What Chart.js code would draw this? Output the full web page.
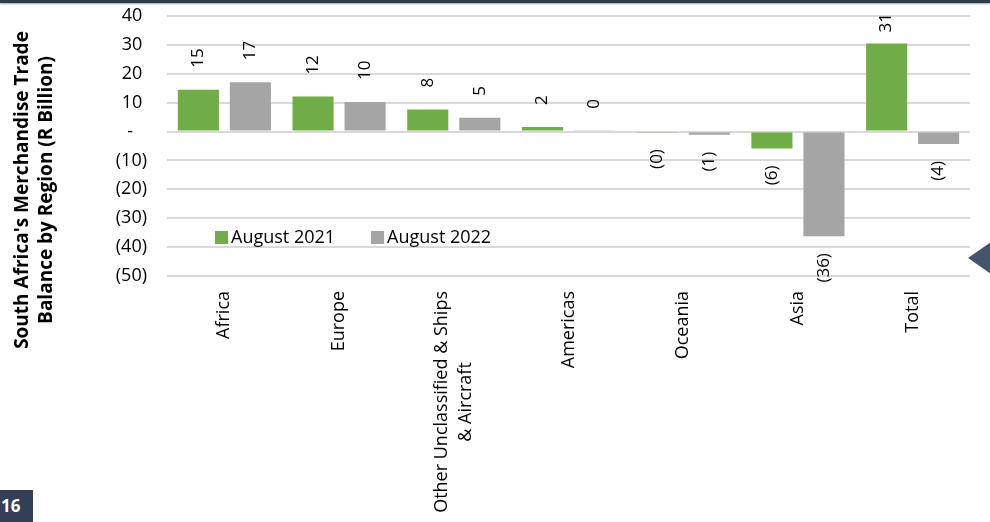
<html>
  <head>
    <meta charset="utf-8" />
    <title>Merchandise Trade Balance by Region</title>
    <style>
      body {
        margin: 0;
        padding: 0;
        background-color: #ffffff;
        font-family: "Open Sans", sans-serif;
      }
      #wrap {
        position: relative;
        width: 990px;
        height: 522px;
        overflow: hidden;
      }
      #topbar {
        position: absolute;
        left: 0;
        top: 0;
        width: 990px;
        height: 3px;
        background-color: #2f3d4e;
        box-shadow: 0 1px 2px #9aa3ad;
      }
      #pageno {
        position: absolute;
        left: 0;
        top: 490px;
        width: 33px;
        height: 32px;
        background-color: #333f55;
        color: #ffffff;
        font-weight: bold;
        font-size: 17px;
        line-height: 32px;
        text-indent: 1px;
      }
      #arrow {
        position: absolute;
        left: 968px;
        top: 242px;
        width: 0;
        height: 0;
        border-top: 16px solid transparent;
        border-bottom: 16px solid transparent;
        border-right: 23px solid #44546a;
      }
      canvas {
        position: absolute;
        left: 0;
        top: 0;
      }
    </style>
    <script src="https://cdn.jsdelivr.net/npm/chart.js"></script>
  </head>
  <body>
    <div id="wrap">
      <canvas id="tradeChart" width="990" height="522"></canvas>
      <div id="topbar"></div>
      <div id="arrow"></div>
      <div id="pageno">16</div>
    </div>
    <script>
      // categories (multi-line labels as arrays)
      const regions = [
        "Africa",
        "Europe",
        ["Other Unclassified & Ships", "& Aircraft"],
        "Americas",
        "Oceania",
        "Asia",
        "Total",
      ];
      const aug2021 = [14.5, 12.1, 7.6, 1.6, -0.2, -5.9, 30.5];
      const aug2022 = [17.1, 10.2, 4.8, 0.3, -1.1, -36.2, -4.3];
      const seriesNames = ["August 2021", "August 2022"];
      const yTitle = ["South Africa's Merchandise Trade", "Balance by Region (R Billion)"];

      const FONT = "'Open Sans', sans-serif";

      // accounting style: negatives in brackets, zero as a dash
      const fmtTick = (v) => {
        if (v === 0) return "-   ";
        if (v < 0) return "(" + Math.abs(v) + ")";
        return v + " ";
      };
      const fmtLabel = (v) => {
        const r = Math.abs(Math.round(v));
        return v < 0 ? "(" + r + ")" : String(r);
      };

      const valueLabels = {
        id: "valueLabels",
        afterDatasetsDraw(chart) {
          const ctx = chart.ctx;
          const top = chart.chartArea.top;
          ctx.save();
          ctx.font = "17px " + FONT;
          ctx.fillStyle = "#000000";
          ctx.textBaseline = "middle";
          chart.data.datasets.forEach((ds, di) => {
            const meta = chart.getDatasetMeta(di);
            meta.data.forEach((bar, i) => {
              const v = ds.data[i];
              const text = fmtLabel(v);
              const w = ctx.measureText(text).width;
              ctx.save();
              if (v >= 0) {
                let start = bar.y - 22;
                if (start - w < top - 3) start = top - 3 + w;
                ctx.translate(bar.x, start);
                ctx.rotate(-Math.PI / 2);
                ctx.textAlign = "left";
              } else {
                ctx.translate(bar.x, bar.y + 17);
                ctx.rotate(-Math.PI / 2);
                ctx.textAlign = "right";
              }
              ctx.fillText(text, 0, 0);
              ctx.restore();
            });
          });
          ctx.restore();
        },
      };

      // rotated category names, lines centred on each other
      const categoryLabels = {
        id: "categoryLabels",
        afterDraw(chart) {
          const ctx = chart.ctx;
          const xs = chart.scales.x;
          const y0 = chart.chartArea.bottom + 15;
          const lh = 24;
          ctx.save();
          ctx.font = "18px " + FONT;
          ctx.fillStyle = "#000000";
          ctx.textBaseline = "middle";
          ctx.textAlign = "center";
          regions.forEach((lab, i) => {
            const lines = Array.isArray(lab) ? lab : [lab];
            const maxW = Math.max(...lines.map((l) => ctx.measureText(l).width));
            const cx = xs.getPixelForValue(i);
            lines.forEach((l, k) => {
              ctx.save();
              ctx.translate(cx + (k - (lines.length - 1) / 2) * lh, y0 + maxW / 2);
              ctx.rotate(-Math.PI / 2);
              ctx.fillText(l, 0, 0);
              ctx.restore();
            });
          });
          ctx.restore();
        },
      };

      const sideTitle = {
        id: "sideTitle",
        afterDraw(chart) {
          const ctx = chart.ctx;
          ctx.save();
          ctx.font = "bold 19px " + FONT;
          ctx.fillStyle = "#000000";
          ctx.textAlign = "center";
          ctx.textBaseline = "middle";
          yTitle.forEach((t, k) => {
            ctx.save();
            ctx.translate(23 + k * 24, 190);
            ctx.rotate(-Math.PI / 2);
            ctx.fillText(t, 0, 0);
            ctx.restore();
          });
          ctx.restore();
        },
      };

      const insideLegend = {
        id: "insideLegend",
        afterDraw(chart) {
          const ctx = chart.ctx;
          ctx.save();
          ctx.font = "18px " + FONT;
          ctx.textBaseline = "middle";
          ctx.textAlign = "left";
          let x = 215;
          const y = 238;
          chart.data.datasets.forEach((ds) => {
            ctx.fillStyle = ds.backgroundColor;
            ctx.fillRect(x, y - 7, 13, 13);
            ctx.fillStyle = "#000000";
            ctx.fillText(ds.label, x + 16, y);
            x += 16 + ctx.measureText(ds.label).width + 36;
          });
          ctx.restore();
        },
      };

      const ctx = document.getElementById("tradeChart").getContext("2d");
      const tradeChart = new Chart(ctx, {
        type: "bar",
        data: {
          labels: regions,
          datasets: [
            {
              label: seriesNames[0],
              data: aug2021,
              backgroundColor: "#70ad47",
              barPercentage: 0.79,
              categoryPercentage: 0.907,
            },
            {
              label: seriesNames[1],
              data: aug2022,
              backgroundColor: "#a5a5a5",
              barPercentage: 0.79,
              categoryPercentage: 0.907,
            },
          ],
        },
        options: {
          responsive: false,
          animation: false,
          devicePixelRatio: 1,
          layout: {
            padding: { left: 0, top: 16, right: 20, bottom: 0 },
          },
          plugins: {
            legend: { display: false },
            tooltip: { enabled: false },
          },
          scales: {
            x: {
              grid: { display: false },
              border: { display: false },
              ticks: { display: false },
              afterFit: (scale) => {
                scale.height = 246;
              },
            },
            y: {
              min: -50,
              max: 40,
              grid: {
                color: "#d9d9d9",
                lineWidth: 2,
                drawTicks: false,
              },
              border: { display: false },
              ticks: {
                stepSize: 10,
                padding: 20,
                color: "#000000",
                font: { family: FONT, size: 18 },
                callback: (v) => fmtTick(v),
              },
              afterFit: (scale) => {
                scale.width = 167;
                scale.paddingTop = 0;
                scale.paddingBottom = 0;
              },
            },
          },
        },
        plugins: [valueLabels, categoryLabels, sideTitle, insideLegend],
      });
    </script>
  </body>
</html>
